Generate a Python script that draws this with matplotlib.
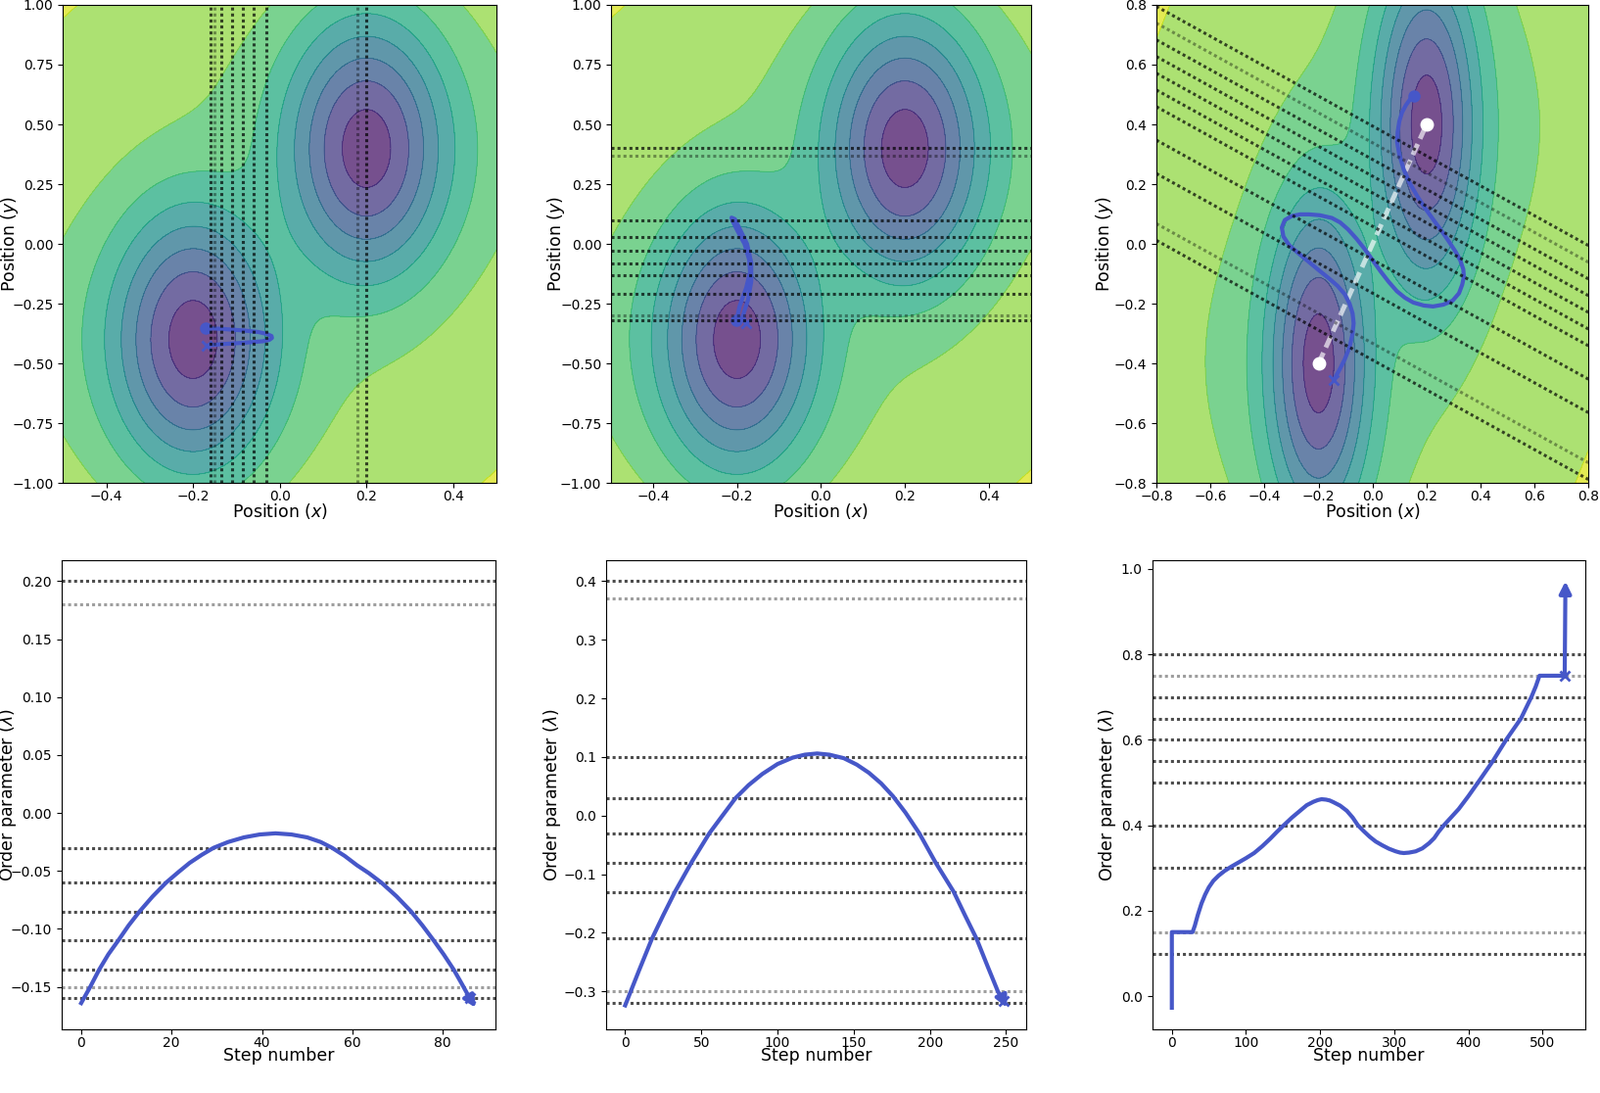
import numpy as np
import matplotlib
matplotlib.use('Agg')
from matplotlib import pyplot as plt

# ---- potential: two wells (narrow core + wide shallow shelf) ----
WELL_X = [-0.2, 0.2]
WELL_Y = [-0.4, 0.4]
CORE_SX = 0.13
CORE_SY = 0.40
SHELF_W = 0.22
SHELF_SX = 0.5
SHELF_SY = 0.6
MIX_P = 2.5

# ---- interfaces ----
lam_x = [-0.16, -0.15, -0.135, -0.11, -0.085, -0.06, -0.03, 0.18, 0.20]
lam_x_grey = [False, True, False, False, False, False, False, True, False]
lam_y = [-0.32, -0.30, -0.21, -0.13, -0.08, -0.03, 0.03, 0.10, 0.37, 0.40]
lam_y_grey = [False, True, False, False, False, False, False, False, True, False]
lam_p = [0.10, 0.15, 0.30, 0.40, 0.50, 0.55, 0.60, 0.65, 0.70, 0.75, 0.80]
lam_p_grey = [False, True, False, False, False, False, False, False, False, True, False]

# ---- trajectories in the plane ----
path_a_x = [-0.170, -0.135, -0.082, -0.050, -0.030, -0.019, -0.018, -0.024, -0.040,
            -0.082, -0.135, -0.168]
path_a_y = [-0.352, -0.355, -0.362, -0.368, -0.376, -0.385, -0.393, -0.401, -0.407,
            -0.413, -0.419, -0.425]

path_b_x = [-0.201, -0.194, -0.178, -0.169, -0.171, -0.182, -0.198, -0.211, -0.213,
            -0.205, -0.194, -0.176, -0.166, -0.166, -0.174, -0.186, -0.179]
path_b_y = [-0.320, -0.261, -0.183, -0.118, -0.066, 0.000, 0.052, 0.097, 0.110,
            0.104, 0.065, 0.000, -0.079, -0.157, -0.235, -0.300, -0.333]

path_c_x = [-0.143, -0.122, -0.103, -0.085, -0.074, -0.070, -0.074, -0.085, -0.103,
            -0.130, -0.163, -0.200, -0.236, -0.272, -0.308, -0.330, -0.336, -0.325,
            -0.300, -0.268, -0.236, -0.195, -0.151, -0.120, -0.091, -0.060, -0.030,
            0.000, 0.030, 0.060, 0.090, 0.120, 0.151, 0.190, 0.224, 0.262, 0.296,
            0.320, 0.332, 0.338, 0.336, 0.325, 0.308, 0.285, 0.260, 0.230, 0.199,
            0.168, 0.139, 0.115, 0.099, 0.091, 0.093, 0.099, 0.109, 0.124, 0.139, 0.155]
path_c_y = [-0.454, -0.420, -0.386, -0.345, -0.300, -0.265, -0.232, -0.200, -0.168,
            -0.140, -0.114, -0.087, -0.060, -0.033, -0.005, 0.025, 0.055, 0.080,
            0.093, 0.099, 0.099, 0.096, 0.087, 0.072, 0.049, 0.018, -0.016,
            -0.054, -0.092, -0.127, -0.158, -0.180, -0.196, -0.206, -0.209, -0.203, -0.190,
            -0.165, -0.136, -0.110, -0.085, -0.055, -0.027, 0.005, 0.038, 0.075, 0.114,
            0.156, 0.201, 0.250, 0.299, 0.340, 0.375, 0.410, 0.440, 0.465, 0.484, 0.495]

# ---- order parameter vs step ----
steps_a = [0, 2, 4, 6, 8.2, 10.5, 12.9, 15.8, 18.8, 21.5, 24, 26.7, 29.3, 32.5, 36, 39.5,
           43, 46.5, 50, 53, 55.5, 58.3, 61, 63.7, 66.4, 69.8, 73, 75.5, 78, 80.2, 82.4,
           84.3, 86, 87.3]
order_a = [-0.164, -0.150, -0.135, -0.122, -0.110, -0.097, -0.085, -0.072, -0.060, -0.051,
           -0.043, -0.036, -0.030, -0.025, -0.021, -0.0185, -0.0175, -0.0185, -0.021,
           -0.025, -0.030, -0.037, -0.045, -0.052, -0.060, -0.072, -0.085, -0.097, -0.110,
           -0.122, -0.135, -0.148, -0.160, -0.168]

steps_b = [0, 9, 17.6, 25, 32.7, 43.5, 55.3, 63, 72.5, 81, 90, 100, 110, 118, 126, 134,
           143.5, 152, 160, 168, 175.8, 184, 193, 203.7, 215.6, 223, 230.6, 238, 244.6,
           248.5, 250.5]
order_b = [-0.324, -0.265, -0.21, -0.170, -0.130, -0.080, -0.030, -0.003, 0.030, 0.052,
           0.071, 0.088, 0.099, 0.104, 0.106, 0.104, 0.098, 0.087, 0.073, 0.055, 0.033,
           0.005, -0.030, -0.080, -0.130, -0.170, -0.210, -0.258, -0.300, -0.317, -0.328]

steps_c = [0, 0, 28, 31, 35, 40, 45, 50, 56, 63, 71, 80, 89, 100, 111, 122, 133, 142, 151,
           162, 173, 182, 191, 197, 202, 208, 213, 218, 227, 236, 244, 251, 259, 267, 275,
           284, 293, 302, 308, 313, 320, 329, 338, 347, 354, 360, 367, 377, 387, 400, 413,
           423, 433, 442, 451, 461, 471, 478, 485, 491, 496, 530, 531]
order_c = [-0.027, 0.15, 0.15, 0.165, 0.19, 0.217, 0.238, 0.255, 0.27, 0.282, 0.293, 0.303,
           0.312, 0.323, 0.335, 0.351, 0.369, 0.385, 0.40, 0.418, 0.434, 0.447, 0.455, 0.459,
           0.461, 0.460, 0.458, 0.454, 0.446, 0.434, 0.418, 0.40, 0.386, 0.373, 0.362, 0.353,
           0.345, 0.339, 0.336, 0.335, 0.336, 0.339, 0.346, 0.358, 0.37, 0.385, 0.40, 0.419,
           0.438, 0.468, 0.50, 0.525, 0.55, 0.575, 0.60, 0.625, 0.65, 0.675, 0.70, 0.725,
           0.75, 0.75, 0.971]

BLUE = '#4657c8'
DARK = (0, 0, 0, 0.7)
GREY = (0, 0, 0, 0.38)
DOTS = (0, (1, 1))

plt.rcParams['font.family'] = ['DejaVu Sans']
plt.rcParams['xtick.labelsize'] = 10
plt.rcParams['ytick.labelsize'] = 10
plt.rcParams['xtick.major.pad'] = 1.5


def potential(x, y):
    acc = np.zeros_like(x)
    for x0, y0 in zip(WELL_X, WELL_Y):
        dx = x - x0
        dy = y - y0
        core = np.exp(-0.5 * (dx / CORE_SX) ** 2 - 0.5 * (dy / CORE_SY) ** 2)
        shelf = np.exp(-0.5 * (dx / SHELF_SX) ** 2 - 0.5 * (dy / SHELF_SY) ** 2)
        acc = acc + ((1 - SHELF_W) * core + SHELF_W * shelf) ** MIX_P
    return -acc ** (1.0 / MIX_P)


def draw_landscape(ax, xlim, ylim):
    gx = np.linspace(xlim[0], xlim[1], 400)
    gy = np.linspace(ylim[0], ylim[1], 400)
    xx, yy = np.meshgrid(gx, gy)
    vv = potential(xx, yy)
    step = (vv.max() - vv.min()) / 7.6
    levels = vv.min() - 0.44 * step + step * np.arange(10)
    ax.contourf(xx, yy, vv, levels=levels, cmap='viridis', alpha=0.75)
    ax.contour(xx, yy, vv, levels=levels, cmap='viridis', alpha=0.75, linewidths=0.6)
    ax.set_xlim(xlim)
    ax.set_ylim(ylim)


def draw_path(ax, px, py, start='o', end='x'):
    ax.plot(px, py, color=BLUE, lw=3, solid_capstyle='round', zorder=4)
    ax.plot(px[0], py[0], marker=start, color=BLUE, ms=7, mew=2, zorder=4)
    ax.plot(px[-1], py[-1], marker=end, color=BLUE, ms=7, mew=2, zorder=4)


def draw_order(ax, steps, order, lams, greys):
    for lam, grey in zip(lams, greys):
        ax.axhline(lam, color=GREY if grey else DARK, lw=2.2, linestyle=DOTS, zorder=2)
    ax.plot(steps[:-1], order[:-1], color=BLUE, lw=3, zorder=3)
    ax.plot(steps[-2], order[-2], marker='x', color=BLUE, ms=7, mew=2, zorder=3)
    ax.annotate('', xy=(steps[-1], order[-1]), xytext=(steps[-2], order[-2]),
                arrowprops=dict(arrowstyle='-|>,head_length=0.7,head_width=0.35',
                                color=BLUE, lw=3, shrinkA=0, shrinkB=0), zorder=3)
    ax.plot(steps[-1], order[-1], alpha=0)
    ax.set_xlabel('Step number', fontsize=12.5)
    ax.xaxis.set_label_coords(0.5, -0.039)
    ax.set_ylabel(r'Order parameter ($\lambda$)', fontsize=12.5)


fig = plt.figure(figsize=(16.34, 11.16), dpi=100)
top_rects = [[0.0393, 0.558, 0.2711, 0.4376],
             [0.3819, 0.558, 0.2624, 0.4376],
             [0.7228, 0.558, 0.2701, 0.4376]]
bot_rects = [[0.0384, 0.0585, 0.2713, 0.4292],
             [0.3788, 0.0585, 0.2624, 0.4292],
             [0.7201, 0.0585, 0.2706, 0.4292]]
ax_top = [fig.add_axes(r) for r in top_rects]
ax_bot = [fig.add_axes(r) for r in bot_rects]

# panel 1: order parameter = x
ax = ax_top[0]
draw_landscape(ax, (-0.5, 0.5), (-1.0, 1.0))
draw_path(ax, path_a_x, path_a_y)
for lam, grey in zip(lam_x, lam_x_grey):
    ax.axvline(lam, color=GREY if grey else DARK, lw=2.2, linestyle=DOTS, zorder=5)

# panel 2: order parameter = y
ax = ax_top[1]
draw_landscape(ax, (-0.5, 0.5), (-1.0, 1.0))
draw_path(ax, path_b_x, path_b_y)
for lam, grey in zip(lam_y, lam_y_grey):
    ax.axhline(lam, color=GREY if grey else DARK, lw=2.2, linestyle=DOTS, zorder=5)

# panel 3: order parameter = projection on the line between the minima
ax = ax_top[2]
draw_landscape(ax, (-0.8, 0.8), (-0.8, 0.8))
ax.plot(WELL_X, WELL_Y, color='white', alpha=0.65, lw=3.5, dashes=(2.5, 1.2), zorder=3)
ax.plot(WELL_X, WELL_Y, 'o', color='white', ms=9, zorder=6)
draw_path(ax, path_c_x, path_c_y, start='x', end='o')
ex = np.array([-0.8, 0.8])
dxw = WELL_X[1] - WELL_X[0]
dyw = WELL_Y[1] - WELL_Y[0]
nrm = np.hypot(dxw, dyw)
for lam, grey in zip(lam_p, lam_p_grey):
    # points where the projection equals lam
    ey = WELL_Y[0] + (lam * nrm - (ex - WELL_X[0]) * dxw) / dyw
    ax.plot(ex, ey, color=GREY if grey else DARK, lw=2.2, linestyle=DOTS, zorder=5)
ax.set_xlim(-0.8, 0.8)
ax.set_ylim(-0.8, 0.8)

for ax, ylx in zip(ax_top, [-0.098, -0.105, -0.096]):
    ax.set_xlabel(r'Position ($x$)', fontsize=12.5)
    ax.xaxis.set_label_coords(0.5, -0.038)
    ax.set_ylabel(r'Position ($y$)', fontsize=12.5)
    ax.yaxis.set_label_coords(ylx, 0.5)

draw_order(ax_bot[0], steps_a, order_a, lam_x, lam_x_grey)
draw_order(ax_bot[1], steps_b, order_b, lam_y, lam_y_grey)
draw_order(ax_bot[2], steps_c, order_c, lam_p, lam_p_grey)
for ax, ylx in zip(ax_bot, [-0.099, -0.102, -0.078]):
    ax.yaxis.set_label_coords(ylx, 0.5)

fig.savefig('out.png', dpi=100)
